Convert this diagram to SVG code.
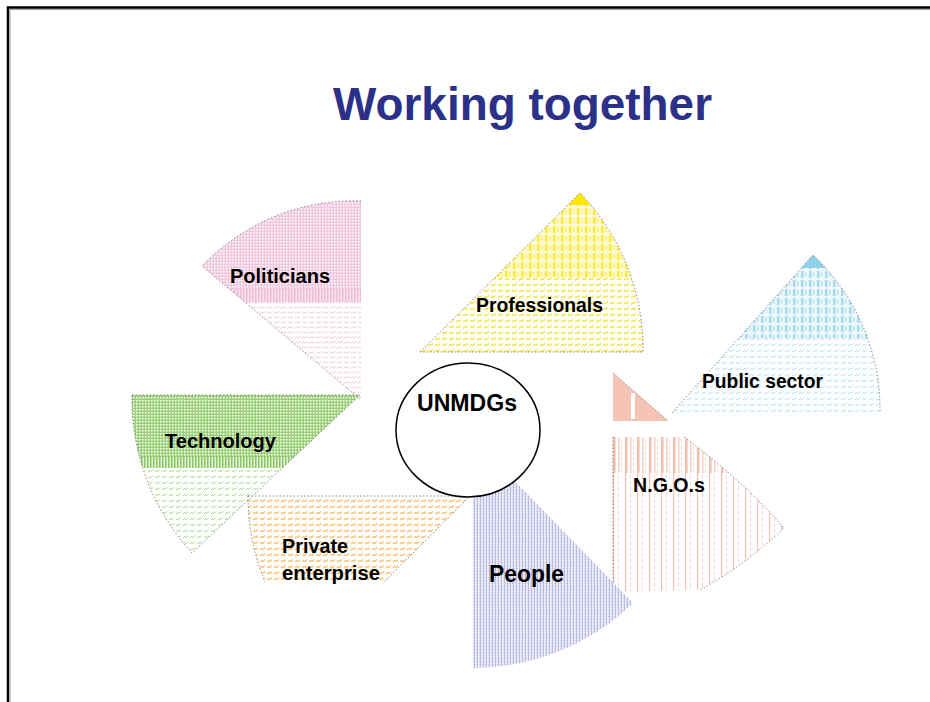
<svg xmlns="http://www.w3.org/2000/svg" width="930" height="702" viewBox="0 0 930 702">
<style>
.lbl{font-family:"Liberation Sans",Arial,sans-serif;font-weight:bold;fill:#000}
.edge{fill:none;stroke:#3c3c3c;stroke-width:1;stroke-dasharray:1.5 2;opacity:.6}
</style>
<defs>
  <!-- pink -->
  <pattern id="pkMesh" width="3" height="3" patternUnits="userSpaceOnUse"><rect width="3" height="3" fill="#F2C8DF"/><rect x="1" y="1" width="1.5" height="1.5" fill="#fff"/></pattern>
  <pattern id="pkStripe" width="3" height="4" patternUnits="userSpaceOnUse"><rect width="3" height="4" fill="#F8E3EE"/><rect width="1.5" height="4" fill="#EFBCD8"/></pattern>
  <pattern id="pkDash" width="7" height="5" patternUnits="userSpaceOnUse"><path d="M0.5,3.5 L2.5,2 L4,3 L6.5,1.5" fill="none" stroke="#F0C4DC" stroke-width="1"/></pattern>
  <!-- green -->
  <pattern id="gMesh" width="3" height="3" patternUnits="userSpaceOnUse"><rect width="3" height="3" fill="#9ACF78"/><rect x="1" y="1" width="1.5" height="1.5" fill="#fff"/></pattern>
  <pattern id="gStripe" width="3" height="4" patternUnits="userSpaceOnUse"><rect width="3" height="4" fill="#E2F1D6"/><rect width="1.5" height="4" fill="#8CC766"/></pattern>
  <pattern id="gDash" width="7" height="6" patternUnits="userSpaceOnUse"><path d="M1,4 L2.5,2.5 L4,3.5 L6,1.5" fill="none" stroke="#9ED282" stroke-width="1"/></pattern>
  <!-- yellow -->
  <pattern id="yGrid" width="8" height="9" patternUnits="userSpaceOnUse"><rect width="8" height="9" fill="#FFFAD6"/><rect x="1" y="1" width="2.5" height="7" fill="#FFE933"/><rect x="5" y="2" width="1.5" height="5" fill="#FFF070"/></pattern>
  <pattern id="yDash" width="7" height="6" patternUnits="userSpaceOnUse"><path d="M1,4 L2.5,2.5 L4,3.5 L6,1.5" fill="none" stroke="#F4E43A" stroke-width="1.1"/></pattern>
  <!-- blue -->
  <pattern id="bGrid" width="8" height="9" patternUnits="userSpaceOnUse"><rect width="8" height="9" fill="#EEF8FC"/><rect x="1" y="1" width="2.5" height="7" fill="#A4DBEE"/><rect x="5" y="2" width="1.5" height="5" fill="#BCE4F2"/></pattern>
  <pattern id="bDash" width="7" height="6" patternUnits="userSpaceOnUse"><path d="M1,4 L2.5,2.5 L4,3.5 L6,1.5" fill="none" stroke="#A6DCEE" stroke-width="1"/></pattern>
  <!-- orange -->
  <pattern id="oDash" width="7" height="6" patternUnits="userSpaceOnUse"><path d="M1,4 L2.5,2.5 L4,3.5 L6,1.5" fill="none" stroke="#FAC272" stroke-width="1.2"/></pattern>
  <!-- lavender -->
  <pattern id="lMesh" width="3" height="3" patternUnits="userSpaceOnUse"><rect width="3" height="3" fill="#ECECF8"/><rect width="1" height="3" fill="#BABAE2"/><rect x="2" y="1" width="1" height="1" fill="#CFCFEC"/></pattern>
  <!-- salmon -->
  <pattern id="sTop" width="12" height="6" patternUnits="userSpaceOnUse"><rect x="1" width="2.5" height="6" fill="#F5BBAB"/><rect x="6" width="1.5" height="6" fill="#F8CFC3"/><rect x="9" y="1" width="1" height="4" fill="#F9D8CF"/></pattern>
  <pattern id="sLow" width="12" height="6" patternUnits="userSpaceOnUse"><rect x="1" width="1.2" height="6" fill="#F6C3B5"/><rect x="6" y="1" width="1" height="4" fill="#F9D6CC"/></pattern>

  <clipPath id="cPol"><path d="M361,201 A210,210 0 0 0 202,266 L361,400 Z"/></clipPath>
  <clipPath id="cPro"><path d="M420,352 L580,193 A224,224 0 0 1 643,352 Z"/></clipPath>
  <clipPath id="cPub"><path d="M672,413 L813,255 A212,212 0 0 1 880,413 Z"/></clipPath>
  <clipPath id="cNgo"><path d="M613,437 L684,437 Q740,478 784,528 Q745,565 700,590 L613,592 Z"/></clipPath>
  <clipPath id="cTec"><path d="M132,395 L360,395 L192,553 A228,228 0 0 1 132,395 Z"/></clipPath>
  <clipPath id="cPri"><path d="M470,496 L248,496 A222,222 0 0 0 265,582 L384,582 Z"/></clipPath>
  <clipPath id="cPeo"><path d="M473,438 L633,603 A230,230 0 0 1 473,668 Z"/></clipPath>
</defs>

<rect width="930" height="702" fill="#fff"/>
<path d="M8,702 V7.5 H930" fill="none" stroke="#000" stroke-width="2.5"/>
<path d="M10,702 V9.5 H930" fill="none" stroke="#a0a0a0" stroke-width="1"/>

<text x="333" y="120" font-family="Liberation Sans, Arial, sans-serif" font-weight="bold" font-size="46" fill="#2B3088" textLength="379" lengthAdjust="spacingAndGlyphs">Working together</text>

<g id="politicians">
  <g clip-path="url(#cPol)">
    <rect x="195" y="195" width="170" height="94" fill="url(#pkMesh)"/>
    <rect x="195" y="289" width="170" height="13" fill="url(#pkStripe)"/>
    <rect x="195" y="302" width="170" height="100" fill="url(#pkDash)"/>
  </g>
  <path class="edge" d="M361,201 A210,210 0 0 0 202,266 L361,400"/>
  <text class="lbl" x="230" y="283" font-size="20" textLength="100" lengthAdjust="spacingAndGlyphs">Politicians</text>
</g>

<g id="professionals">
  <g clip-path="url(#cPro)">
    <rect x="415" y="190" width="235" height="15" fill="#FFE800"/>
    <rect x="415" y="205" width="235" height="72" fill="url(#yGrid)"/>
    <rect x="415" y="277" width="235" height="80" fill="url(#yDash)"/>
  </g>
  <path class="edge" d="M420,352 L580,193 A224,224 0 0 1 643,352 Z"/>
  <text class="lbl" x="476" y="312" font-size="20" textLength="127" lengthAdjust="spacingAndGlyphs">Professionals</text>
</g>

<g id="public-sector">
  <g clip-path="url(#cPub)">
    <rect x="665" y="250" width="220" height="18" fill="#8FD2E8"/>
    <rect x="665" y="268" width="220" height="70" fill="url(#bGrid)"/>
    <rect x="665" y="338" width="220" height="80" fill="url(#bDash)"/>
  </g>
  <path class="edge" d="M672,413 L813,255 A212,212 0 0 1 880,413"/>
  <path d="M613,373 L668,421 L613,421 Z" fill="#F6C3B4"/>
  <rect x="631" y="393" width="4" height="26" fill="#fff"/>
  <path class="edge" d="M613,373 L668,421"/>
  <text class="lbl" x="702" y="388" font-size="20" textLength="121" lengthAdjust="spacingAndGlyphs">Public sector</text>
</g>

<g id="ngos">
  <g clip-path="url(#cNgo)">
    <rect x="610" y="435" width="180" height="38" fill="url(#sTop)"/>
    <rect x="610" y="473" width="180" height="125" fill="url(#sLow)"/>
  </g>
  <path class="edge" d="M684,437 Q740,478 784,528 Q745,565 700,590"/>
  <path class="edge" d="M613,437 L613,592"/>
  <text class="lbl" x="633" y="492" font-size="20" textLength="72" lengthAdjust="spacingAndGlyphs">N.G.O.s</text>
</g>

<g id="technology">
  <g clip-path="url(#cTec)">
    <rect x="128" y="393" width="236" height="64" fill="url(#gMesh)"/>
    <rect x="128" y="457" width="236" height="11" fill="url(#gStripe)"/>
    <rect x="128" y="468" width="236" height="90" fill="url(#gDash)"/>
  </g>
  <path class="edge" d="M132,395 L360,395 L192,553 A228,228 0 0 1 132,395 Z"/>
  <text class="lbl" x="165" y="448" font-size="20" textLength="111" lengthAdjust="spacingAndGlyphs">Technology</text>
</g>

<g id="private-enterprise">
  <g clip-path="url(#cPri)">
    <rect x="245" y="494" width="230" height="92" fill="url(#oDash)"/>
  </g>
  <path class="edge" d="M248,496 L470,496 L384,582"/>
  <path class="edge" d="M248,496 A222,222 0 0 0 265,582"/>
  <text class="lbl" x="282" y="553" font-size="20" textLength="66" lengthAdjust="spacingAndGlyphs">Private</text>
  <text class="lbl" x="282" y="580" font-size="20" textLength="98" lengthAdjust="spacingAndGlyphs">enterprise</text>
</g>

<g id="people">
  <g clip-path="url(#cPeo)">
    <rect x="470" y="435" width="170" height="240" fill="url(#lMesh)"/>
  </g>
  <text class="lbl" x="489" y="582" font-size="23" textLength="75" lengthAdjust="spacingAndGlyphs">People</text>
</g>

<g id="unmdgs">
  <ellipse cx="468" cy="430" rx="72" ry="67" fill="#fff" stroke="#000" stroke-width="1.5"/>
  <text class="lbl" x="417" y="411" font-size="23" textLength="100" lengthAdjust="spacingAndGlyphs">UNMDGs</text>
</g>

<g id="connectors"/>
</svg>
